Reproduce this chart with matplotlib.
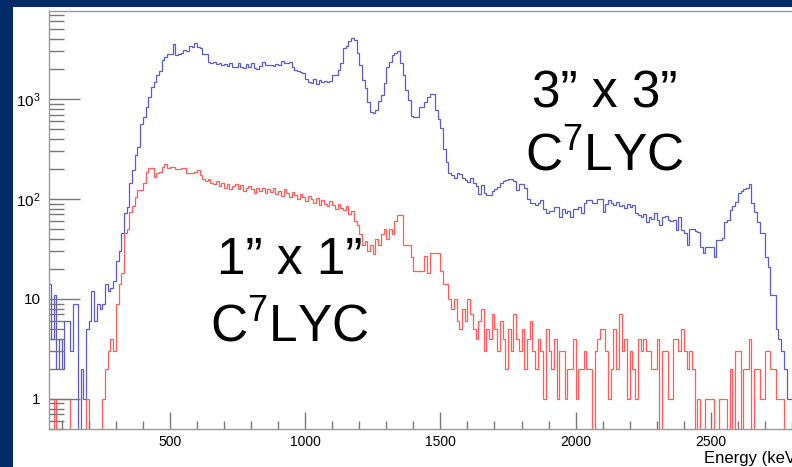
import numpy as np
import matplotlib
matplotlib.use('Agg')
import matplotlib.pyplot as plt
from matplotlib.patches import Rectangle
from matplotlib.ticker import FixedLocator, NullFormatter

plt.rcParams['font.family'] = ['Liberation Sans', 'DejaVu Sans']
plt.rcParams['mathtext.fontset'] = 'custom'
plt.rcParams['mathtext.rm'] = 'Liberation Sans'
plt.rcParams['mathtext.default'] = 'regular'

## 10 keV bins, 50 -> 2830 keV
edges = np.arange(50, 2840, 10)

## 3" x 3" C7LYC spectrum (counts per bin)
counts_3x3 = [
    14, 4, 11, 2, 4,
    2, 6, 6, 3, 9, 9, 0, 2, 1, 5,
    6, 12, 6, 9, 8, 9, 14, 12, 13, 15,
    24, 30, 46, 72, 83, 145, 195, 275, 330, 560,
    660, 830, 1050, 1320, 1480, 1740, 1900, 2450, 2630, 2820,
    2800, 3550, 2750, 2800, 2880, 3090, 3020, 3390, 3300, 3630,
    3350, 3240, 2820, 2820, 2340, 2290, 2350, 2250, 2290, 2200,
    2250, 2150, 2280, 2100, 2080, 2300, 2100, 2050, 2250, 2080,
    2300, 2050, 2000, 2150, 2350, 2200, 2180, 2200, 2150, 2250,
    2200, 2400, 2300, 2300, 2350, 2100, 1950, 1900, 1850, 1820,
    1600, 1480, 1445, 1600, 1410, 1550, 1480, 1500, 1480, 1500,
    1740, 1740, 1950, 2290, 3236, 3390, 3800, 4070, 3900, 2880,
    2190, 1550, 1290, 930, 740, 724, 780, 955, 1100, 1445,
    2090, 2340, 2750, 2880, 3020, 2290, 1740, 1230, 977, 676,
    660, 660, 830, 830, 930, 1047, 1120, 1120, 780, 630,
    510, 320, 234, 182, 174, 162, 182, 178, 162, 155,
    148, 162, 145, 135, 112, 138, 115, 110, 110, 120,
    125, 132, 145, 150, 155, 158, 158, 151, 123, 141,
    141, 129, 100, 91, 91, 87, 91, 98, 79, 72,
    76, 76, 83, 83, 66, 79, 72, 76, 66, 79,
    79, 83, 72, 91, 98, 98, 91, 91, 100, 100,
    74, 90, 98, 91, 88, 93, 85, 88, 81, 90,
    84, 87, 72, 69, 66, 70, 59, 66, 63, 72,
    62, 55, 66, 68, 62, 60, 62, 49, 66, 49,
    46, 35, 50, 50, 48, 47, 33, 29, 33, 33,
    33, 26, 39, 39, 41, 59, 62, 78, 85, 93,
    115, 120, 126, 129, 141, 91, 74, 59, 46, 46,
    26, 21, 11, 11, 5, 4, 3, 2, 1, 1,
    1, 1, 1,
]

## 1" x 1" C7LYC spectrum (counts per bin)
counts_1x1 = [
    1, 1, 0, 1, 1,
    1, 1, 1, 0, 0, 0, 0, 0, 0, 1,
    0, 0, 0, 0, 0, 1, 2, 3, 4, 3,
    9, 14, 18, 46, 50, 74, 85, 105, 123, 123,
    145, 186, 204, 204, 166, 182, 186, 209, 224, 204,
    209, 209, 200, 200, 204, 204, 182, 182, 182, 186,
    195, 175, 158, 150, 160, 145, 140, 150, 135, 145,
    130, 140, 125, 135, 140, 125, 138, 120, 130, 135,
    125, 115, 130, 120, 128, 115, 125, 118, 130, 112,
    120, 108, 125, 115, 105, 118, 110, 100, 112, 105,
    95, 108, 100, 92, 102, 88, 98, 90, 85, 95,
    88, 80, 90, 82, 78, 85, 70, 75, 60, 55,
    45, 35, 38, 30, 35, 28, 40, 35, 45, 50,
    40, 50, 45, 60, 69, 69, 35, 35, 35, 26,
    19, 19, 19, 19, 27, 18, 29, 29, 29, 29,
    19, 14, 14, 10, 8, 10, 6, 5, 8, 6,
    10, 7, 5, 4, 6, 8, 3, 5, 4, 7,
    5, 3, 6, 4, 2, 5, 3, 7, 4, 3,
    5, 2, 4, 6, 3, 2, 4, 3, 1, 5,
    3, 2, 4, 1, 3, 3, 1, 2, 2, 4,
    1, 2, 2, 3, 2, 2, 0, 3, 4, 5,
    5, 3, 1, 2, 5, 2, 7, 3, 4, 1,
    3, 2, 1, 4, 3, 4, 3, 3, 2, 2,
    4, 0, 3, 3, 1, 1, 4, 4, 3, 5,
    3, 2, 3, 2, 0, 1, 0, 0, 1, 1,
    1, 0, 0, 1, 1, 1, 0, 2, 0, 3,
    3, 0, 2, 2, 4, 0, 2, 2, 1, 1,
    3, 3, 2, 2, 1, 1, 1, 0, 0, 0,
    0, 0, 0,
]

y_major = [1, 10, 100, 1000]
y_major_labels = ['1', '10', '$10^{2}$', '$10^{3}$']
x_major = [500, 1000, 1500, 2000, 2500]

fig = plt.figure(figsize=(7.92, 4.67), dpi=100, facecolor='#022c68')
## white slide panel behind the plot
fig.patches.append(Rectangle((13 / 792, 0), 1, 460 / 467, transform=fig.transFigure,
                             facecolor='white', edgecolor='none', zorder=-10))

ax = fig.add_axes([49 / 792, 38 / 467, 753 / 792, 418 / 467])
ax.set_zorder(5)
ax.set_facecolor('white')

## empty bins go below the axis like in ROOT
b = np.array(counts_3x3, dtype=float)
r = np.array(counts_1x1, dtype=float)
ax.stairs(np.where(b > 0, b, 1e-3), edges, color='#5c5cc8', lw=0.9)
ax.stairs(np.where(r > 0, r, 1e-3), edges, color='#ff5e5e', lw=0.9)

ax.set_yscale('log')
ax.set_ylim(0.5, 7600)
ax.set_xlim(53, 2837)

ax.yaxis.set_major_locator(FixedLocator(y_major))
ax.set_yticklabels(y_major_labels)
minors = [m * 10.0 ** d for d in range(-1, 4) for m in range(2, 10)]
ax.yaxis.set_minor_locator(FixedLocator([v for v in minors if 0.5 <= v <= 7600]))
ax.yaxis.set_minor_formatter(NullFormatter())

ax.xaxis.set_major_locator(FixedLocator(x_major))
ax.xaxis.set_minor_locator(FixedLocator(np.arange(100, 2900, 100)))

ax.tick_params(axis='y', which='major', direction='in', length=22, width=1,
               color='#777777', labelsize=11, pad=6)
ax.tick_params(axis='y', which='minor', direction='in', length=11, width=1, color='#777777')
ax.tick_params(axis='x', which='major', direction='in', length=12, width=1,
               color='#777777', labelsize=10, pad=4)
ax.tick_params(axis='x', which='minor', direction='in', length=6, width=1, color='#777777')

for s in ['left', 'bottom', 'top']:
    ax.spines[s].set_color('#999999')
    ax.spines[s].set_linewidth(1)
ax.spines['right'].set_visible(False)

ax.set_xlabel('Energy (keV)', fontsize=12, loc='right', labelpad=2)

## detector labels
ax.text(0.738, 0.768, '3\u201d x 3\u201d', transform=ax.transAxes, fontsize=37,
        ha='center', va='baseline')
ax.text(0.738, 0.617, 'C$^{7}$LYC', transform=ax.transAxes, fontsize=37,
        ha='center', va='baseline')
ax.text(0.320, 0.37, '1\u201d x 1\u201d', transform=ax.transAxes, fontsize=37,
        ha='center', va='baseline')
ax.text(0.320, 0.208, 'C$^{7}$LYC', transform=ax.transAxes, fontsize=37,
        ha='center', va='baseline')

fig.savefig('out.png', dpi=100, facecolor=fig.get_facecolor())
